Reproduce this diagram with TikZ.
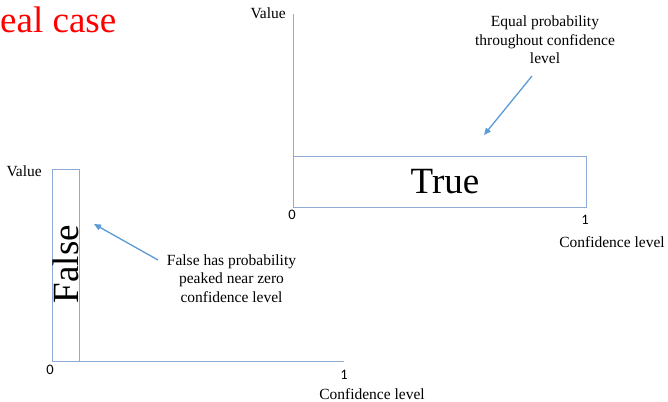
\documentclass[tikz,border=0pt]{standalone}
\usepackage{fontspec}
\setmainfont{Liberation Serif}
\newfontfamily\numfont{Carlito}
\usetikzlibrary{arrows.meta}
\definecolor{axisblue}{HTML}{8EAAD6}
\definecolor{arrowblue}{HTML}{5B9BD5}
\tikzset{
  axis/.style={draw=axisblue, line width=0.9pt},
  pointer/.style={-{Triangle[length=7pt,width=6pt]}, arrowblue, line width=1.3pt},
  note/.style={align=center, inner sep=0pt, font=\fontsize{15.5}{18.5}\selectfont},
  small/.style={inner sep=0pt, font=\fontsize{15.5}{18.5}\selectfont},
  tick/.style={inner sep=0pt, font=\numfont\fontsize{14.5}{16}\selectfont},
  big/.style={inner sep=0pt, font=\fontsize{37}{40}\selectfont}
}
\begin{document}
\begin{tikzpicture}[x=1pt, y=-1pt]
            \useasboundingbox (0,0) rectangle (668,401);
            % title
            \node[anchor=base west, inner sep=0pt, red, font=\fontsize{37}{40}\selectfont] (title) at (0,33) {eal case};

            % true case
            \coordinate (T0) at (293,207);
            \coordinate (Ttop) at (293,14);
            \coordinate (T1) at (586,207);
            \draw[axis] (Ttop) -- (T0) -- (T1);
            \draw[axis] (293,156) rectangle (T1);
            \node[big, anchor=base] (truelbl) at (445,193) {True};
            \node[small, anchor=base east] (tval) at (286,19) {Value};
            \node[tick, anchor=base] (tzero) at (292,219) {0};
            \node[tick, anchor=base] (tone) at (585,224) {1};
            \node[small, anchor=base] (tconf) at (612,247) {Confidence level};
            \node[note, anchor=base] (tnote) at (545,64) {Equal probability\\throughout confidence\\level};
            \coordinate (ta) at (532,76);
            \coordinate (tb) at (484,135);
            \draw[pointer] (ta) -- (tb);

            % false case
            \coordinate (F0) at (52,361);
            \coordinate (Ftop) at (52,169);
            \coordinate (F1) at (344,361);
            \draw[axis] (Ftop) -- (F0) -- (F1);
            \draw[axis] (Ftop) rectangle (79,361);
            \node[big, rotate=90, anchor=base] (falselbl) at (78,264) {False};
            \node[small, anchor=base east] (fval) at (42,176) {Value};
            \node[tick, anchor=base] (fzero) at (50,374) {0};
            \node[tick, anchor=base] (fone) at (344,379) {1};
            \node[small, anchor=base] (fconf) at (372,399) {Confidence level};
            \node[note, anchor=base] (fnote) at (231.5,302) {False has probability\\peaked near zero\\confidence level};
            \coordinate (fa) at (158,260);
            \coordinate (fb) at (94,224);
            \draw[pointer] (fa) -- (fb);
        \end{tikzpicture}
\end{document}
